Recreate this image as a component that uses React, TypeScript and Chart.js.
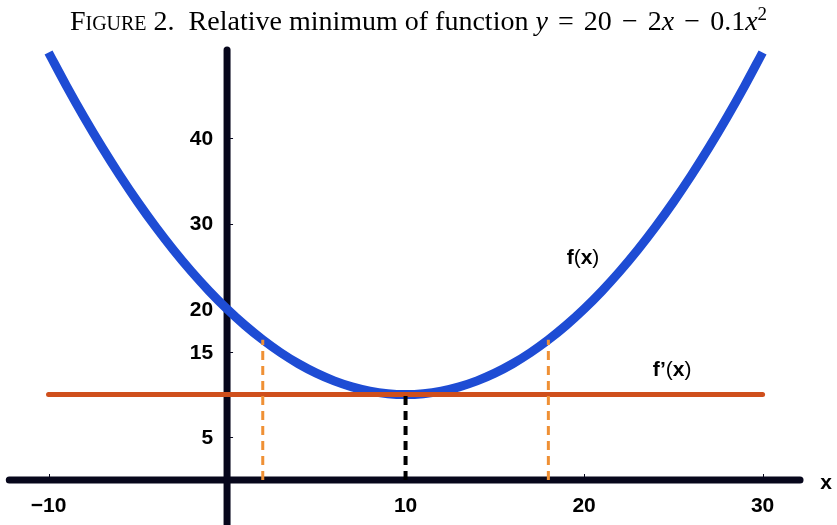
import React, { useEffect, useRef } from "react";
import { Chart, registerables } from "chart.js";

Chart.register(...registerables);

// f(x) sampled at whole numbers
const curveX = [-10, -9, -8, -7, -6, -5, -4, -3, -2, -1, 0, 1, 2, 3, 4, 5, 6, 7, 8, 9, 10, 11, 12, 13, 14, 15, 16, 17, 18, 19, 20, 21, 22, 23, 24, 25, 26, 27, 28, 29, 30];
const curveY = [50, 46.1, 42.4, 38.9, 35.6, 32.5, 29.6, 26.9, 24.4, 22.1, 20, 18.1, 16.4, 14.9, 13.6, 12.5, 11.6, 10.9, 10.4, 10.1, 10, 10.1, 10.4, 10.9, 11.6, 12.5, 13.6, 14.9, 16.4, 18.1, 20, 22.1, 24.4, 26.9, 29.6, 32.5, 35.6, 38.9, 42.4, 46.1, 50];

// f'(x) horizontal line
const derivX = [-10, 30];
const derivY = [10, 10];

// dashed guides: [x, yTop]
const orangeGuides = [
  [2, 16.4],
  [18, 16.4],
];
const minimumGuide = [10, 10];

// axes extents
const xAxisRange = [-12.2, 32.1];
const yAxisRange = [-5.3, 50.3];

// tick labels
const xTicks = [-10, 10, 20, 30];
const xTickLabels = ["\u221210", "10", "20", "30"];
const yTicks = [40, 30, 20, 15, 5];
const yTickLabels = ["40", "30", "20", "15", "5"];

// curve annotations (data coordinates)
const fLabelPos = [19.94, 25.96];
const dfLabelPos = [24.93, 12.87];
const xAxisLabelPos = [33.56, -0.35];

const AXIS_COLOR = "#07071c";
const FONT = "'Liberation Sans', Arial, sans-serif";
const LABEL_SIZE = 21;

const pts = (xs: number[], ys: number[]) => xs.map((x, i) => ({ x, y: ys[i] }));

function drawMixed(ctx: CanvasRenderingContext2D, parts: [string, boolean][], cx: number, cy: number, size: number) {
  const widths = parts.map(([t, b]) => {
    ctx.font = `${b ? "bold " : ""}${size}px ${FONT}`;
    return ctx.measureText(t).width;
  });
  const total = widths.reduce((a, b) => a + b, 0);
  let x = cx - total / 2;
  ctx.textAlign = "left";
  ctx.textBaseline = "middle";
  parts.forEach(([t, b], i) => {
    ctx.font = `${b ? "bold " : ""}${size}px ${FONT}`;
    ctx.fillText(t, x, cy);
    x += widths[i];
  });
}

const axesPlugin = {
  id: "centeredAxes",
  beforeDatasetsDraw(chart: any) {
    const { ctx, scales } = chart;
    const xs = scales.x;
    const ys = scales.y;
    const x0 = xs.getPixelForValue(0);
    const y0 = ys.getPixelForValue(0);
    ctx.save();
    ctx.strokeStyle = AXIS_COLOR;
    ctx.lineWidth = 7;
    ctx.lineCap = "round";
    ctx.beginPath();
    ctx.moveTo(xs.getPixelForValue(xAxisRange[0]), y0);
    ctx.lineTo(xs.getPixelForValue(xAxisRange[1]), y0);
    ctx.stroke();
    ctx.beginPath();
    ctx.moveTo(x0, ys.getPixelForValue(yAxisRange[1]));
    ctx.lineTo(x0, ys.getPixelForValue(yAxisRange[0]));
    ctx.stroke();

    // small tick marks
    ctx.lineWidth = 1;
    ctx.lineCap = "butt";
    xTicks.forEach((v) => {
      const px = Math.round(xs.getPixelForValue(v)) + 0.5;
      ctx.beginPath();
      ctx.moveTo(px, y0 - 3);
      ctx.lineTo(px, y0 - 6);
      ctx.stroke();
    });
    yTicks.forEach((v) => {
      const py = Math.round(ys.getPixelForValue(v)) + 0.5;
      ctx.beginPath();
      ctx.moveTo(x0 + 3, py);
      ctx.lineTo(x0 + 6, py);
      ctx.stroke();
    });
    ctx.restore();
  },
  afterDatasetsDraw(chart: any) {
    const { ctx, scales } = chart;
    const xs = scales.x;
    const ys = scales.y;
    const x0 = xs.getPixelForValue(0);
    const y0 = ys.getPixelForValue(0);
    ctx.save();
    ctx.fillStyle = "#000";
    ctx.font = `bold ${LABEL_SIZE}px ${FONT}`;
    ctx.textAlign = "center";
    ctx.textBaseline = "middle";
    xTicks.forEach((v, i) => {
      ctx.fillText(xTickLabels[i], xs.getPixelForValue(v), y0 + 26);
    });
    ctx.textAlign = "right";
    yTicks.forEach((v, i) => {
      ctx.fillText(yTickLabels[i], x0 - 14, ys.getPixelForValue(v) + 1);
    });
    drawMixed(ctx, [["f", true], ["(", false], ["x", true], [")", false]], xs.getPixelForValue(fLabelPos[0]), ys.getPixelForValue(fLabelPos[1]), LABEL_SIZE);
    drawMixed(ctx, [["f\u2019", true], ["(", false], ["x", true], [")", false]], xs.getPixelForValue(dfLabelPos[0]), ys.getPixelForValue(dfLabelPos[1]), LABEL_SIZE);
    drawMixed(ctx, [["x", true]], xs.getPixelForValue(xAxisLabelPos[0]), ys.getPixelForValue(xAxisLabelPos[1]), LABEL_SIZE);
    ctx.restore();
  },
};

export default function App() {
  const canvasRef = useRef<HTMLCanvasElement | null>(null);

  useEffect(() => {
    if (!canvasRef.current) return;
    const line = (data: any[], color: string, width: number, dash: number[], order: number, cap = "butt") => ({
      data,
      borderColor: color,
      borderWidth: width,
      borderDash: dash,
      borderCapStyle: cap,
      pointRadius: 0,
      showLine: true,
      fill: false,
      order,
    });
    const chart = new Chart(canvasRef.current, {
      type: "scatter",
      data: {
        datasets: [
          { ...line(pts(curveX, curveY), "#1e4cd4", 9, [], 4), cubicInterpolationMode: "monotone" },
          line(pts(derivX, derivY), "#cf4f1c", 5, [], 3, "round"),
          ...orangeGuides.map(([gx, gy]) => line([{ x: gx, y: 0 }, { x: gx, y: gy }], "#ef9035", 3, [9, 6], 2)),
          line([{ x: minimumGuide[0], y: 0 }, { x: minimumGuide[0], y: minimumGuide[1] }], "#000", 4, [9, 6], 1),
        ] as any,
      },
      options: {
        animation: false,
        responsive: false,
        devicePixelRatio: 1,
        layout: { padding: 0 },
        plugins: { legend: { display: false }, tooltip: { enabled: false }, title: { display: false } },
        scales: {
          x: { type: "linear", min: -12.72, max: 34.17, display: false },
          y: { type: "linear", min: -5.26, max: 56.14, display: false },
        },
      },
      plugins: [axesPlugin],
    } as any);
    return () => chart.destroy();
  }, []);

  const mathSpace = { margin: "0 0.36em" };

  return (
    <div style={{ position: "absolute", left: 0, top: 0, width: 837, height: 525, background: "#fff" }}>
      <canvas ref={canvasRef} width={837} height={525} style={{ position: "absolute", left: 0, top: 0 }} />
      <div
        style={{
          position: "absolute",
          left: 0,
          top: 4,
          width: 837,
          textAlign: "center",
          fontFamily: "'Liberation Serif', 'DejaVu Serif', serif",
          fontSize: 28,
          lineHeight: "34px",
          color: "#000",
          whiteSpace: "nowrap",
        }}
      >
        <span style={{ fontVariant: "small-caps" }}>Figure 2.</span>
        {"\u2002Relative minimum of function "}
        <span style={{ fontStyle: "italic" }}>y</span>
        <span style={mathSpace}>=</span>
        {"20"}
        <span style={mathSpace}>{"\u2212"}</span>
        {"2"}
        <span style={{ fontStyle: "italic" }}>x</span>
        <span style={mathSpace}>{"\u2212"}</span>
        {"0.1"}
        <span style={{ fontStyle: "italic" }}>x</span>
        <sup style={{ fontSize: 19, lineHeight: 0 }}>2</sup>
      </div>
    </div>
  );
}
